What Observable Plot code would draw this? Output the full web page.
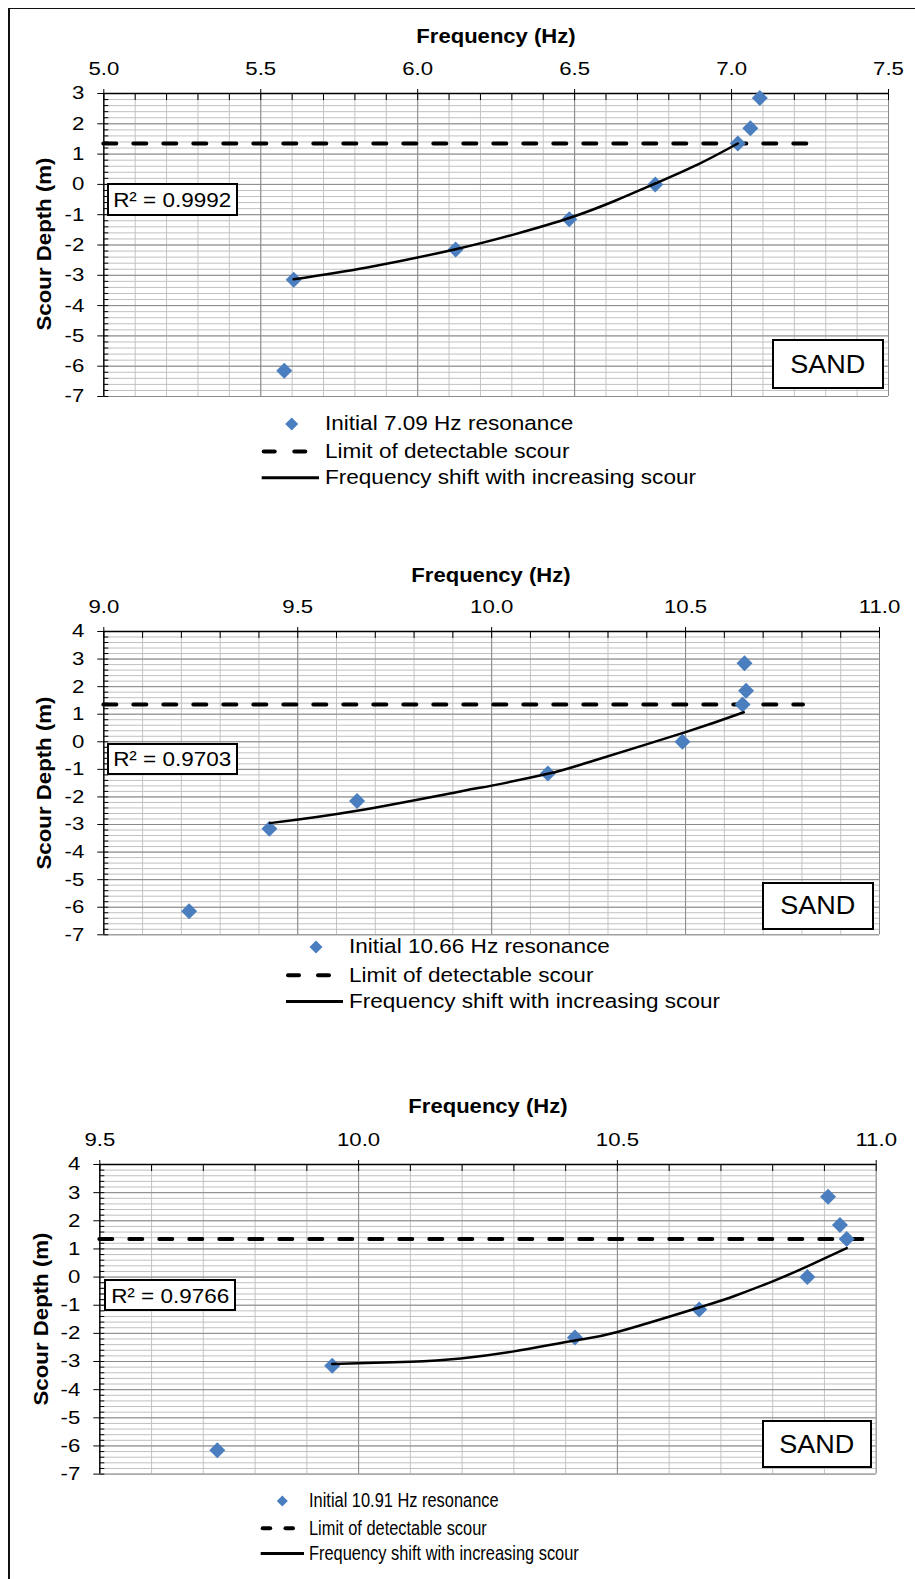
<!DOCTYPE html>
<html><head><meta charset="utf-8">
<script src="https://cdn.jsdelivr.net/npm/d3@7"></script>
<script src="https://cdn.jsdelivr.net/npm/@observablehq/plot@0.6"></script>
<style>
html,body{margin:0;padding:0;background:#fff;}
#page{position:relative;width:915px;height:1579px;overflow:hidden;background:#fff;font-family:"Liberation Sans",Arial,Helvetica,sans-serif;color:#000;}
#page > *{position:absolute;}
.t{white-space:nowrap;line-height:1;}
.box{border:2px solid #000;background:#fff;box-sizing:border-box;display:flex;align-items:center;justify-content:center;}
</style></head><body><div id="page"></div>
<script>
// ---------------- DATA ----------------
const depth = [2.85, 1.85, 1.35, 0, -1.15, -2.15, -3.15, -6.15];      // scour depth (m), shared by all panels
const freq1 = [7.09, 7.06, 7.02, 6.757, 6.483, 6.121, 5.605, 5.575];   // Hz, panel 1
const freq2 = [10.652, 10.656, 10.647, 10.492, 10.145, 9.653, 9.427, 9.22];
const freq3 = [10.907, 10.93, 10.943, 10.867, 10.658, 10.418, 9.949, 9.727];

// trend lines
const fit1Freq  = [5.605, 5.839, 6.121, 6.311, 6.483, 6.629, 6.757, 6.895, 7.02];
const fit1Depth = [-3.13, -2.74, -2.14, -1.64, -1.11, -0.54, 0.03, 0.67, 1.35];
const fit2Freq  = [9.428, 9.653, 9.919, 10.0, 10.145, 10.25, 10.5, 10.65];
const fit2Depth = [-2.95, -2.50, -1.80, -1.59, -1.16, -0.74, 0.35, 1.07];
const fit3Freq  = [9.949, 10.1, 10.197, 10.3, 10.418, 10.5, 10.658, 10.725, 10.8, 10.867, 10.943];
const fit3Depth = [-3.09, -3.01, -2.89, -2.64, -2.25, -1.95, -1.08, -0.68, -0.15, 0.38, 1.03];

const limitDepth = 1.35;                 // limit of detectable scour
const limitEnd = [7.256, 10.804, 10.985]; // where the dashed line stops (Hz)

const x1Ticks = [5.0, 5.5, 6.0, 6.5, 7.0, 7.5];
const x2Ticks = [9.0, 9.5, 10.0, 10.5, 11.0];
const x3Ticks = [9.5, 10.0, 10.5, 11.0];
const y1Ticks = [-7, -6, -5, -4, -3, -2, -1, 0, 1, 2, 3];
const y2Ticks = [-7, -6, -5, -4, -3, -2, -1, 0, 1, 2, 3, 4];
const y3Ticks = [-7, -6, -5, -4, -3, -2, -1, 0, 1, 2, 3, 4];

const r2Labels = ["R\u00B2 = 0.9992", "R\u00B2 = 0.9703", "R\u00B2 = 0.9766"];
const resonanceLabels = ["Initial 7.09 Hz resonance", "Initial 10.66 Hz resonance", "Initial 10.91 Hz resonance"];
const limitLabel = "Limit of detectable scour";
const shiftLabel = "Frequency shift with increasing scour";
const xTitle = "Frequency (Hz)";
const yTitle = "Scour Depth (m)";
const soilLabel = "SAND";

// ---------------- LAYOUT ----------------
const page = document.getElementById("page");
const BLUE = "#4a7ebf";
const minorOf = (lo, hi, step) => d3.range(0, Math.round((hi - lo) / step) + 1).map(i => +(lo + i * step).toFixed(2));

const panels = [
  {freq: freq1, fitF: fit1Freq, fitD: fit1Depth, xTicks: x1Ticks, yTicks: y1Ticks, limitEnd: limitEnd[0], r2: r2Labels[0], res: resonanceLabels[0],
   L: {left: 103.3, right: 888, top: 92.7, bottom: 395.7, titleY: 35.8, ylabX: 45,
       r2Box: [106.7, 183.3, 131.6, 32.7], sandBox: [771.7, 339.3, 112.3, 49.7],
       leg: {rows: [423.5, 451, 477.3], textX: 325, diaX: 291.7, diaS: 13, dash: [261.7, 307.3], dashLen: 15, solid: [261.7, 319], font: 20.5, sx: 1.10}}},
  {freq: freq2, fitF: fit2Freq, fitD: fit2Depth, xTicks: x2Ticks, yTicks: y2Ticks, limitEnd: limitEnd[1], r2: r2Labels[1], res: resonanceLabels[1],
   L: {left: 103.3, right: 879, top: 631, bottom: 934.3, titleY: 574.2, ylabX: 45,
       r2Box: [106.7, 742.7, 131.6, 32.3], sandBox: [762.3, 881.7, 111.7, 48.3],
       leg: {rows: [946.6, 974.8, 1001], textX: 349.4, diaX: 316, diaS: 13, dash: [286, 331], dashLen: 15, solid: [286, 343], font: 20.5, sx: 1.10}}},
  {freq: freq3, fitF: fit3Freq, fitD: fit3Depth, xTicks: x3Ticks, yTicks: y3Ticks, limitEnd: limitEnd[2], r2: r2Labels[2], res: resonanceLabels[2],
   L: {left: 99.3, right: 875.7, top: 1163.7, bottom: 1473.3, titleY: 1105.8, ylabX: 41.7,
       r2Box: [104.3, 1279.3, 131.7, 31.7], sandBox: [761.7, 1420, 110.6, 48.3],
       leg: {rows: [1500.7, 1528, 1553.3], textX: 309, diaX: 282.3, diaS: 11, dash: [260.7, 295], dashLen: 11.5, solid: [260.7, 304], font: 20.5, sx: 0.80}}}
];

function addDiv(html, css, cls) {
  const d = document.createElement("div");
  if (cls) d.className = cls;
  d.innerHTML = html;
  Object.assign(d.style, css);
  page.appendChild(d);
  return d;
}

function stretchText(svg, sel, sx) {
  svg.querySelectorAll(sel).forEach(t => {
    const tr = t.getAttribute("transform");
    if (tr) t.setAttribute("transform", tr + ` scale(${sx},1)`);
  });
}

function drawPanel(p) {
  const L = p.L;
  const xDomain = [p.xTicks[0], p.xTicks[p.xTicks.length - 1]];
  const yDomain = [p.yTicks[0], p.yTicks[p.yTicks.length - 1]];
  const xMinor = minorOf(xDomain[0], xDomain[1], 0.1);
  const yMinor = minorOf(yDomain[0], yDomain[1], 0.2);
  const mt = 45, mb = 10;
  const ph = L.bottom - L.top;
  const pts = p.freq.map((f, i) => ({f, d: depth[i]}));
  const fit = p.fitF.map((f, i) => ({f, d: p.fitD[i]}));

  const chart = Plot.plot({
    width: 915, height: mt + ph + mb,
    marginLeft: L.left, marginRight: 915 - L.right, marginTop: mt, marginBottom: mb,
    x: {domain: xDomain}, y: {domain: yDomain},
    style: {fontFamily: '"Liberation Sans", Arial, sans-serif', background: "transparent", overflow: "visible", color: "#000"},
    marks: [
      Plot.gridX({ticks: xMinor, stroke: "#c4c4c4", strokeOpacity: 1}),
      Plot.gridY({ticks: yMinor, stroke: "#c0c0c0", strokeOpacity: 1}),
      Plot.gridX({ticks: p.xTicks, stroke: "#8a8a8a", strokeOpacity: 1}),
      Plot.gridY({ticks: p.yTicks, stroke: "#8a8a8a", strokeOpacity: 1}),
      Plot.axisX({anchor: "top", ticks: xMinor, tickSize: -6, tickFormat: () => "", label: null}),
      Plot.axisX({anchor: "top", ticks: p.xTicks, tickSize: 5, tickPadding: 13.7, tickFormat: d => d.toFixed(1), fontSize: 18.5, label: null}),
      Plot.axisY({anchor: "left", ticks: yMinor, tickSize: -5, tickFormat: () => "", label: null}),
      Plot.axisY({anchor: "left", ticks: p.yTicks, tickSize: 6, tickPadding: 13.5, tickFormat: d => String(d), fontSize: 18.5, label: null}),
      Plot.ruleY([yDomain[1]], {stroke: "#000", strokeWidth: 1.3}),
      Plot.ruleX([xDomain[0]], {stroke: "#000", strokeWidth: 1.3}),
      Plot.ruleY([limitDepth], {x1: xDomain[0], x2: p.limitEnd, stroke: "#000", strokeWidth: 4, strokeDasharray: "13,17", strokeLinecap: "round"}),
      Plot.dot(pts, {x: "f", y: "d", symbol: "diamond2", r: 7.2, fill: BLUE, stroke: "none"}),
      Plot.line(fit, {x: "f", y: "d", curve: "natural", stroke: "#000", strokeWidth: 2.5})
    ]
  });
  stretchText(chart, 'g[aria-label="x-axis tick label"] text, g[aria-label="y-axis tick label"] text', 1.2);
  chart.style.left = "0px";
  chart.style.top = (L.top - mt) + "px";
  page.appendChild(chart);

  // axis titles
  const cx = (L.left + L.right) / 2, cy = (L.top + L.bottom) / 2;
  addDiv(xTitle, {left: cx + "px", top: (L.titleY - 10.5) + "px", fontSize: "21px", lineHeight: "21px", fontWeight: "bold",
    transform: "translateX(-50%) scaleX(1.05)"}, "t");
  addDiv(yTitle, {left: L.ylabX + "px", top: cy + "px", fontSize: "19.5px", lineHeight: "19.5px", fontWeight: "bold",
    transform: "translate(-50%,-50%) rotate(-90deg) scaleX(1.14)"}, "t");

  // boxes
  const [bx, by, bw, bh] = L.r2Box;
  addDiv(`<span style="display:inline-block;transform:scaleX(1.07)">${p.r2}</span>`,
    {left: bx + "px", top: by + "px", width: bw + "px", height: bh + "px", fontSize: "21px", lineHeight: "21px"}, "box");
  const [sx, sy, sw, sh] = L.sandBox;
  addDiv(`<span style="display:inline-block;transform:scaleX(1.08)">${soilLabel}</span>`,
    {left: sx + "px", top: sy + "px", width: sw + "px", height: sh + "px", fontSize: "25px", lineHeight: "25px"}, "box");

  // legend
  const g = L.leg;
  const labels = [p.res, limitLabel, shiftLabel];
  const svgNS = "http://www.w3.org/2000/svg";
  const sym = document.createElementNS(svgNS, "svg");
  sym.setAttribute("width", 915); sym.setAttribute("height", 100);
  const top0 = g.rows[0] - 20;
  sym.style.left = "0px"; sym.style.top = top0 + "px";
  const hs = g.diaS / 2, y0 = g.rows[0] - top0, y1 = g.rows[1] - top0, y2 = g.rows[2] - top0;
  const dl = g.dashLen - 4;
  sym.innerHTML =
    `<path d="M${g.diaX},${y0 - hs}L${g.diaX + hs},${y0}L${g.diaX},${y0 + hs}L${g.diaX - hs},${y0}Z" fill="${BLUE}"/>` +
    `<line x1="${g.dash[0] + 2}" x2="${g.dash[0] + 2 + dl}" y1="${y1}" y2="${y1}" stroke="#000" stroke-width="4" stroke-linecap="round"/>` +
    `<line x1="${g.dash[1] - 2 - dl}" x2="${g.dash[1] - 2}" y1="${y1}" y2="${y1}" stroke="#000" stroke-width="4" stroke-linecap="round"/>` +
    `<line x1="${g.solid[0]}" x2="${g.solid[1]}" y1="${y2}" y2="${y2}" stroke="#000" stroke-width="3"/>`;
  page.appendChild(sym);
  labels.forEach((txt, i) => {
    addDiv(txt, {left: g.textX + "px", top: (g.rows[i] - g.font / 2) + "px", fontSize: g.font + "px", lineHeight: g.font + "px",
      transform: `scaleX(${g.sx})`, transformOrigin: "0 50%"}, "t");
  });
}

// outer frame (top and left edges)
addDiv("", {left: "8.3px", top: "7.6px", width: "907px", height: "1.5px", background: "#111"});
addDiv("", {left: "8.3px", top: "7.6px", width: "1.5px", height: "1572px", background: "#111"});

panels.forEach(drawPanel);
</script></body></html>
